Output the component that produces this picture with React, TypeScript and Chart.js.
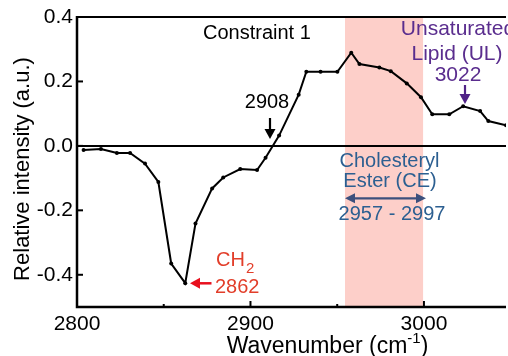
import React, { useEffect, useRef } from "react";
import { Chart, registerables } from "chart.js";

Chart.register(...registerables);

const wavenumbers = [2803.8, 2813.8, 2823.0, 2830.6, 2839.2, 2846.9, 2854.3, 2862.4, 2868.3, 2877.9, 2884.3, 2894.1, 2903.8, 2908.7, 2916.5, 2927.8, 2932.2, 2940.4, 2950.1, 2958.1, 2962.8, 2974.3, 2980.9, 2990.1, 2998.3, 3004.8, 3014.6, 3022.6, 3032.4, 3037.1, 3047.3];
const intensities = [-0.013, -0.010, -0.022, -0.022, -0.055, -0.112, -0.365, -0.426, -0.241, -0.132, -0.098, -0.072, -0.075, -0.037, 0.032, 0.159, 0.230, 0.230, 0.230, 0.289, 0.254, 0.243, 0.232, 0.194, 0.151, 0.098, 0.098, 0.123, 0.108, 0.077, 0.064];

const xMajorTicks = [2800, 2900, 3000];
const xMinorTicks = [2850, 2950];
const yTicks = [0.4, 0.2, 0.0, -0.2, -0.4];
const ceBand = [2954.5, 2999.5];

const FONT = "'Liberation Sans', Arial, sans-serif";

function arrowHead(ctx: CanvasRenderingContext2D, tipX: number, tipY: number, dir: "down" | "left" | "right", len: number, half: number) {
  ctx.beginPath();
  if (dir === "down") {
    ctx.moveTo(tipX, tipY);
    ctx.lineTo(tipX - half, tipY - len);
    ctx.lineTo(tipX + half, tipY - len);
  } else if (dir === "left") {
    ctx.moveTo(tipX, tipY);
    ctx.lineTo(tipX + len, tipY - half);
    ctx.lineTo(tipX + len, tipY + half);
  } else {
    ctx.moveTo(tipX, tipY);
    ctx.lineTo(tipX - len, tipY - half);
    ctx.lineTo(tipX - len, tipY + half);
  }
  ctx.closePath();
  ctx.fill();
}

const decorPlugin = {
  id: "decor",
  beforeDatasetsDraw(chart: any) {
    const { ctx, chartArea: a, scales } = chart;
    const xs = scales.x;
    const ys = scales.y;
    ctx.save();
    // CE band
    const b0 = xs.getPixelForValue(ceBand[0]);
    const b1 = xs.getPixelForValue(ceBand[1]);
    ctx.fillStyle = "rgb(253,207,201)";
    ctx.fillRect(b0, a.top, b1 - b0, a.bottom - a.top);
    // zero line
    ctx.strokeStyle = "#000";
    ctx.lineWidth = 2;
    const y0 = ys.getPixelForValue(0);
    ctx.beginPath();
    ctx.moveTo(a.left, y0);
    ctx.lineTo(a.right, y0);
    ctx.stroke();
    // top border
    ctx.beginPath();
    ctx.moveTo(a.left, a.top);
    ctx.lineTo(a.right, a.top);
    ctx.stroke();
    // axes
    ctx.lineWidth = 2.5;
    ctx.beginPath();
    ctx.moveTo(a.left, a.top - 1);
    ctx.lineTo(a.left, a.bottom);
    ctx.lineTo(a.right, a.bottom);
    ctx.stroke();
    // ticks
    ctx.lineWidth = 2;
    yTicks.forEach((v) => {
      const py = ys.getPixelForValue(v);
      ctx.beginPath();
      ctx.moveTo(a.left, py);
      ctx.lineTo(a.left + 6, py);
      ctx.stroke();
    });
    xMajorTicks.forEach((v) => {
      const px = xs.getPixelForValue(v);
      ctx.beginPath();
      ctx.moveTo(px, a.bottom);
      ctx.lineTo(px, a.bottom - 6);
      ctx.stroke();
    });
    xMinorTicks.forEach((v) => {
      const px = xs.getPixelForValue(v);
      ctx.beginPath();
      ctx.moveTo(px, a.bottom);
      ctx.lineTo(px, a.bottom - 3);
      ctx.stroke();
    });
    ctx.restore();
  },
  afterDraw(chart: any) {
    const { ctx } = chart;
    ctx.save();
    ctx.textBaseline = "alphabetic";

    // axis titles
    ctx.fillStyle = "#000";
    ctx.font = `23px ${FONT}`;
    const t1 = "Wavenumber (cm";
    const sup = "-1";
    const t2 = ")";
    ctx.font = `23px ${FONT}`;
    const w1 = ctx.measureText(t1).width;
    const w3 = ctx.measureText(t2).width;
    ctx.font = `15px ${FONT}`;
    const w2 = ctx.measureText(sup).width;
    const total = w1 + w2 + w3;
    let sx = 327.5 - total / 2;
    ctx.textAlign = "left";
    ctx.font = `23px ${FONT}`;
    ctx.fillText(t1, sx, 353);
    ctx.font = `15px ${FONT}`;
    ctx.fillText(sup, sx + w1, 343);
    ctx.font = `23px ${FONT}`;
    ctx.fillText(t2, sx + w1 + w2, 353);

    ctx.save();
    ctx.translate(29, 169);
    ctx.rotate(-Math.PI / 2);
    ctx.textAlign = "center";
    ctx.font = `22px ${FONT}`;
    ctx.fillText("Relative intensity (a.u.)", 0, 0);
    ctx.restore();

    // Constraint 1
    ctx.textAlign = "left";
    ctx.font = `20px ${FONT}`;
    ctx.fillStyle = "#000";
    ctx.fillText("Constraint 1", 203, 39);

    // 2908
    ctx.textAlign = "center";
    ctx.fillText("2908", 267, 108);
    ctx.strokeStyle = "#000";
    ctx.lineWidth = 2.2;
    ctx.beginPath();
    ctx.moveTo(270, 118);
    ctx.lineTo(270, 131);
    ctx.stroke();
    arrowHead(ctx, 270, 139, "down", 10, 5.5);

    // Unsaturated lipid
    ctx.fillStyle = "rgb(90,45,142)";
    ctx.font = `21px ${FONT}`;
    ctx.fillText("Unsaturated", 458, 35);
    ctx.fillText("Lipid (UL)", 457, 60);
    ctx.fillText("3022", 458, 80.5);
    ctx.strokeStyle = "rgb(80,35,135)";
    ctx.fillStyle = "rgb(80,35,135)";
    ctx.lineWidth = 2.2;
    ctx.beginPath();
    ctx.moveTo(465, 85);
    ctx.lineTo(465, 96);
    ctx.stroke();
    arrowHead(ctx, 465, 104, "down", 10, 5.5);

    // Cholesteryl ester
    ctx.fillStyle = "rgb(44,95,145)";
    ctx.font = `20px ${FONT}`;
    ctx.fillText("Cholesteryl", 389.5, 166.5);
    ctx.fillText("Ester (CE)", 390, 186.5);
    ctx.fillText("2957 - 2997", 392, 220);
    ctx.strokeStyle = "rgb(60,80,125)";
    ctx.fillStyle = "rgb(60,80,125)";
    ctx.lineWidth = 2.2;
    ctx.beginPath();
    ctx.moveTo(352, 198.3);
    ctx.lineTo(419, 198.3);
    ctx.stroke();
    arrowHead(ctx, 345, 198.3, "left", 10, 5);
    arrowHead(ctx, 426, 198.3, "right", 10, 5);

    // CH2 2862
    ctx.fillStyle = "rgb(226,62,42)";
    ctx.textAlign = "left";
    ctx.font = `20px ${FONT}`;
    ctx.fillText("CH", 216, 266);
    const wch = ctx.measureText("CH").width;
    ctx.font = `15px ${FONT}`;
    ctx.fillText("2", 216 + wch + 1, 273);
    ctx.font = `20px ${FONT}`;
    ctx.fillText("2862", 215, 292.7);
    ctx.strokeStyle = "rgb(232,16,30)";
    ctx.fillStyle = "rgb(232,16,30)";
    ctx.lineWidth = 2.5;
    ctx.beginPath();
    ctx.moveTo(197, 283.3);
    ctx.lineTo(211.5, 283.3);
    ctx.stroke();
    arrowHead(ctx, 190, 283.3, "left", 10, 5.5);

    ctx.restore();
  },
};

export default function App() {
  const canvasRef = useRef<HTMLCanvasElement | null>(null);

  useEffect(() => {
    const canvas = canvasRef.current;
    if (!canvas) return;
    const data = wavenumbers.map((x, i) => ({ x, y: intensities[i] }));
    const chart = new Chart(canvas, {
      type: "line",
      data: {
        datasets: [
          {
            data,
            borderColor: "#000",
            backgroundColor: "#000",
            borderWidth: 2,
            pointRadius: 2,
            pointHoverRadius: 2,
            pointBackgroundColor: "#000",
            pointBorderWidth: 0,
            tension: 0,
            fill: false,
          },
        ],
      },
      options: {
        responsive: false,
        animation: false,
        events: [],
        layout: { padding: { top: 17, right: 0, left: 0, bottom: 0 } },
        plugins: {
          legend: { display: false },
          tooltip: { enabled: false },
          title: { display: false },
        },
        scales: {
          x: {
            type: "linear",
            min: 2800,
            max: 3047.3,
            grid: { display: false, drawTicks: false },
            border: { display: false },
            ticks: {
              stepSize: 100,
              includeBounds: false,
              color: "#000",
              padding: 5,
              maxRotation: 0,
              font: { family: FONT, size: 21 },
              callback: (v: any) => String(v),
            },
            afterFit: (s: any) => {
              s.height = 49;
            },
          },
          y: {
            type: "linear",
            min: -0.5,
            max: 0.4,
            grid: { display: false, drawTicks: false },
            border: { display: false },
            ticks: {
              stepSize: 0.2,
              includeBounds: false,
              color: "#000",
              padding: 4,
              font: { family: FONT, size: 21 },
              callback: (v: any) => Number(v).toFixed(1),
            },
            afterFit: (s: any) => {
              s.width = 77;
            },
          },
        },
      },
      plugins: [decorPlugin],
    });
    return () => chart.destroy();
  }, []);

  return (
    <div style={{ position: "absolute", left: 0, top: 0, width: 508, height: 356, background: "#fff" }}>
      <canvas ref={canvasRef} width={508} height={356} style={{ width: 508, height: 356, display: "block" }} />
    </div>
  );
}
